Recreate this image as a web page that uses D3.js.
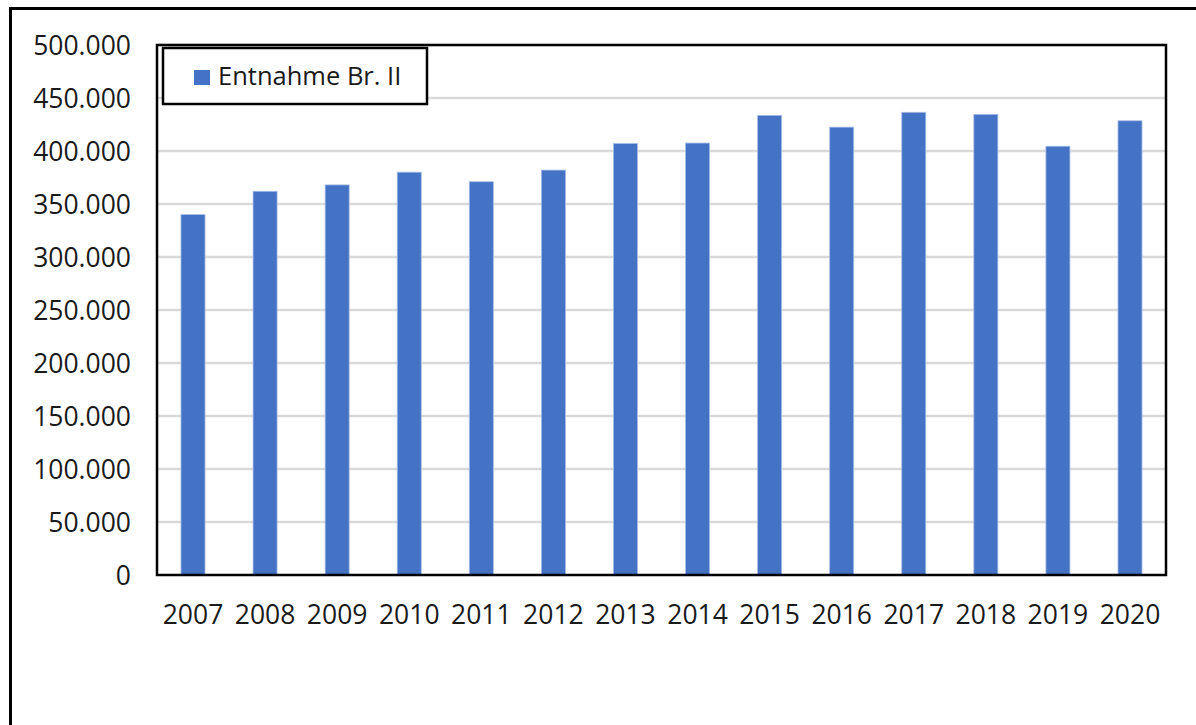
<!DOCTYPE html>
<html>
<head>
<meta charset="utf-8">
<script src="https://cdn.jsdelivr.net/npm/d3@7"></script>
<style>
  body { margin: 0; background: #fff; }
  text { font-family: "Open Sans", "Noto Sans", sans-serif; fill: #1a1a1a; }
</style>
</head>
<body>
<div id="chart"></div>
<script>
var years = ["2007", "2008", "2009", "2010", "2011", "2012", "2013", "2014", "2015", "2016", "2017", "2018", "2019", "2020"];
var entnahme = [340000, 362000, 368000, 380000, 371000, 382000, 407000, 407500, 433500, 422500, 436500, 434500, 404500, 428500];
var yTicks = [0, 50000, 100000, 150000, 200000, 250000, 300000, 350000, 400000, 450000, 500000];
var seriesName = "Entnahme Br. II";

var svgWidth = 1196;
var svgHeight = 725;

var margin = { top: 45, right: 30, bottom: 150, left: 157 };
var chartWidth = 1166 - margin.left;
var chartHeight = 575 - margin.top;

var svg = d3.select("#chart")
  .append("svg")
  .attr("width", svgWidth)
  .attr("height", svgHeight);

// outer frame (runs off the right and bottom edges)
svg.append("path")
  .attr("d", "M10.5,730 L10.5,8.5 L1200,8.5")
  .attr("fill", "none")
  .attr("stroke", "#000")
  .attr("stroke-width", 3);

var chart = svg.append("g")
  .attr("transform", "translate(" + margin.left + "," + margin.top + ")");

var x = d3.scaleBand()
  .domain(years)
  .range([0, chartWidth])
  .paddingInner(0.667)
  .paddingOuter(0.333);

var y = d3.scaleLinear()
  .domain([0, 500000])
  .range([chartHeight, 0]);

var fmt = function(d) {
  return d === 0 ? "0" : d3.format(",")(d).replace(/,/g, ".");
};

// gridlines
chart.append("g")
  .selectAll("line")
  .data(yTicks.filter(d => d > 0))
  .enter()
  .append("line")
  .attr("x1", 0)
  .attr("x2", chartWidth)
  .attr("y1", d => y(d))
  .attr("y2", d => y(d))
  .attr("stroke", "#d9d9d9")
  .attr("stroke-width", 2.5);

// bars
chart.selectAll(".bar")
  .data(entnahme)
  .enter()
  .append("rect")
  .attr("class", "bar")
  .attr("x", (d, i) => x(years[i]))
  .attr("y", d => y(d))
  .attr("width", x.bandwidth())
  .attr("height", d => chartHeight - y(d))
  .attr("fill", "#4472c4")
  .attr("stroke", "#a4bbe6")
  .attr("stroke-width", 0.8);

// plot frame
chart.append("rect")
  .attr("x", 0)
  .attr("y", 0)
  .attr("width", chartWidth)
  .attr("height", chartHeight)
  .attr("fill", "none")
  .attr("stroke", "#000")
  .attr("stroke-width", 2.5);

// y axis labels
var leftAxis = d3.axisLeft(y).tickValues(yTicks).tickFormat(fmt).tickSize(0).tickPadding(26);
var gy = chart.append("g").call(leftAxis);
gy.select(".domain").remove();
gy.selectAll("text")
  .attr("font-size", 26.5)
  .attr("dy", "0.36em")
  .attr("fill", "#1a1a1a")
  .style("font-family", "'Open Sans', sans-serif");

// x axis labels
var bottomAxis = d3.axisBottom(x).tickSize(0).tickPadding(30);
var gx = chart.append("g")
  .attr("transform", "translate(0," + chartHeight + ")")
  .call(bottomAxis);
gx.select(".domain").remove();
gx.selectAll("text")
  .attr("font-size", 26.5)
  .attr("fill", "#1a1a1a")
  .style("font-family", "'Open Sans', sans-serif");

// legend
var legend = svg.append("g").attr("transform", "translate(163,48)");
legend.append("rect")
  .attr("width", 264)
  .attr("height", 56)
  .attr("fill", "#fff")
  .attr("stroke", "#000")
  .attr("stroke-width", 2.5);
legend.append("rect")
  .attr("x", 31)
  .attr("y", 22)
  .attr("width", 16)
  .attr("height", 15)
  .attr("fill", "#4472c4");
legend.append("text")
  .attr("x", 55)
  .attr("y", 37)
  .attr("font-size", 25.5)
  .text(seriesName);
</script>
</body>
</html>
